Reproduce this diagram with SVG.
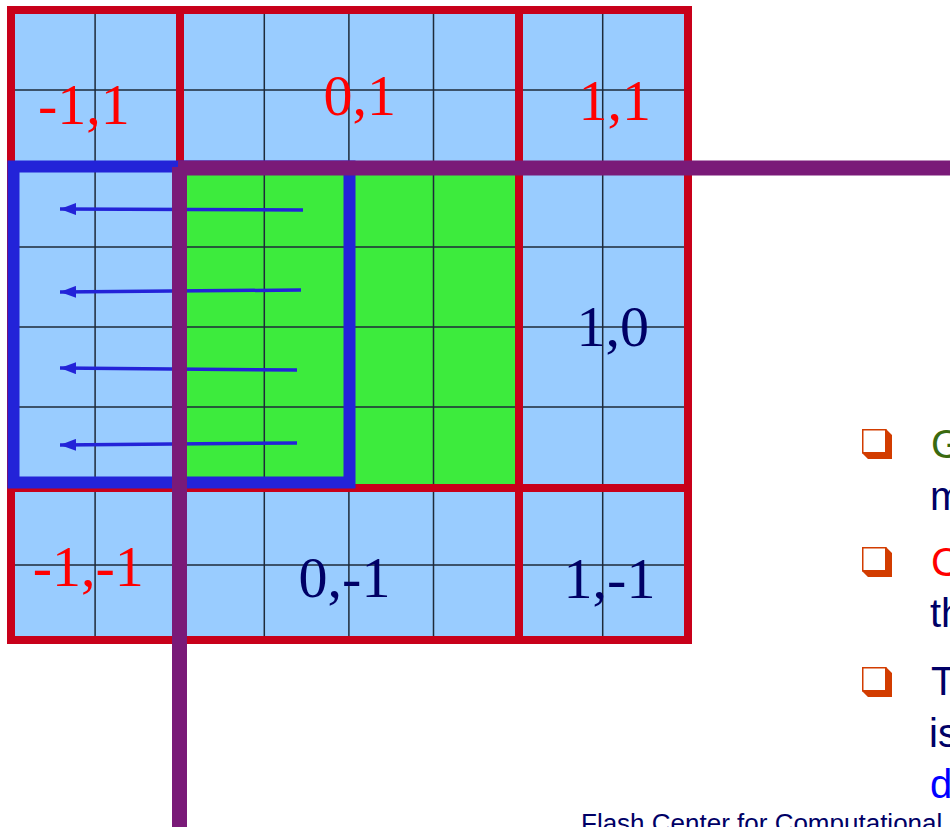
<svg xmlns="http://www.w3.org/2000/svg" width="950" height="827" viewBox="0 0 950 827">
  <style>
    .grid { stroke: #1e2a3a; stroke-width: 1.5; fill: none; }
    .red { stroke: #c8001a; stroke-width: 8; fill: none; }
    .blk { font-family: "Liberation Serif", "Times New Roman", serif; font-size: 58px; }
    .rt { fill: #ff0000; }
    .nv { fill: #000066; }
    .txt { font-family: "Liberation Sans", Arial, sans-serif; font-size: 40px; }
    .arrow { stroke: #2323d8; stroke-width: 3.5; fill: none; marker-end: url(#ah); }
    .purple { stroke: #7a1a78; stroke-width: 15; fill: none; }
  </style>
  <defs>
    <marker id="ah" markerUnits="userSpaceOnUse" markerWidth="16" markerHeight="12" viewBox="0 0 16 12" refX="16" refY="6" orient="auto">
      <path d="M0,0 L16,6 L0,12 Z" fill="#2323d8"/>
    </marker>
    <g id="bullet">
      <polygon points="0,24 6,30 30,30 30,6 24,0 24,24" fill="#d23c00"/>
      <rect x="0.75" y="0.75" width="23" height="23" fill="#ffffff" stroke="#d23c00" stroke-width="1.5"/>
    </g>
  </defs>
  <rect width="950" height="827" fill="#ffffff"/>

  <g id="background">
    <rect x="11" y="10" width="677" height="630" fill="#99ccff"/>
    <rect x="180" y="168" width="339" height="319" fill="#3deb3d"/>
  </g>

  <g id="grid-lines">
    <path class="grid" d="M95.1,10 V640 M179.7,10 V640 M264.3,10 V640 M348.9,10 V640 M433.5,10 V640 M518.1,10 V640 M602.7,10 V640"/>
    <path class="grid" d="M11,90 H688 M11,168 H688 M11,247 H688 M11,327 H688 M11,407 H688 M11,487 H688 M11,565 H688 M11,641 H690"/>
  </g>

  <g id="blocks">
    <rect class="red" x="11" y="10" width="677" height="630"/>
    <path class="red" d="M180,10 V640 M519,10 V640 M11,168 H688 M11,488 H688"/>
  </g>

  <g id="labels">
    <text class="blk rt" x="38" y="124">-1,1</text>
    <text class="blk rt" x="323.6" y="115">0,1</text>
    <text class="blk rt" x="578.6" y="120">1,1</text>
    <text class="blk nv" x="576.6" y="346">1,0</text>
    <text class="blk rt" x="32.7" y="586">-1,-1</text>
    <text class="blk nv" x="298.6" y="597">0,-1</text>
    <text class="blk nv" x="563.6" y="598">1,-1</text>
  </g>

  <g id="guard-region">
    <rect x="13.5" y="166.5" width="336" height="316" fill="none" stroke="#2323d8" stroke-width="12"/>
  </g>

  <g id="connectors">
    <line class="arrow" x1="303" y1="210" x2="60" y2="209"/>
    <line class="arrow" x1="301" y1="290" x2="60" y2="292"/>
    <line class="arrow" x1="297" y1="370" x2="60" y2="368"/>
    <line class="arrow" x1="297" y1="443" x2="60" y2="445"/>
  </g>

  <g id="axes">
    <line class="purple" x1="178" y1="168" x2="950" y2="168"/>
    <line class="purple" x1="179.5" y1="167" x2="179.5" y2="827"/>
  </g>

  <g id="bullets">
    <use href="#bullet" x="862" y="429"/>
    <use href="#bullet" x="862" y="547"/>
    <use href="#bullet" x="862" y="667"/>
  </g>

  <g id="bullet-text" class="txt">
    <text x="931" y="458" fill="#3a6a10">G</text>
    <text x="930" y="510" fill="#000066">m</text>
    <text x="931" y="576" fill="#ff0000">C</text>
    <text x="930" y="627" fill="#000066">th</text>
    <text x="931" y="695" fill="#000066">T</text>
    <text x="929" y="747" fill="#000066">is</text>
    <text x="930" y="798" fill="#0000ff">d</text>
  </g>

  <g id="footer">
    <text x="581" y="832" font-family="Liberation Sans, Arial, sans-serif" font-size="26" fill="#000066">Flash Center for Computational</text>
  </g>
</svg>
